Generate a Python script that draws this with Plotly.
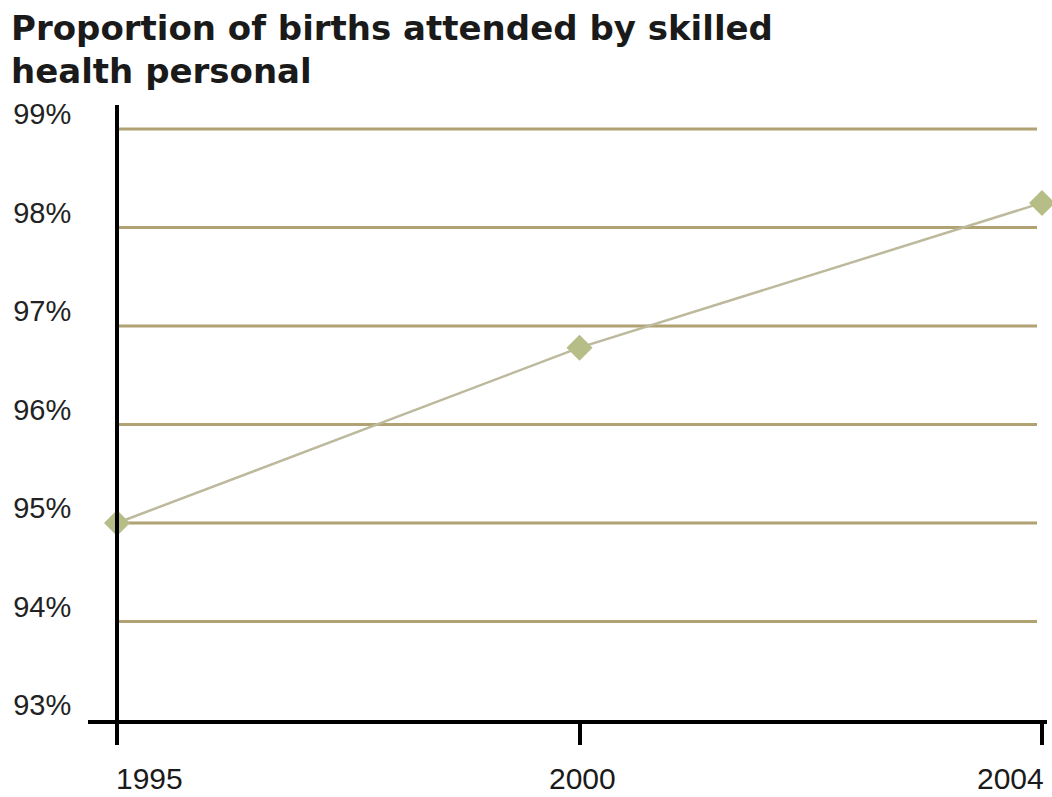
import plotly.graph_objects as go

# Data
years = ["1995", "2000", "2004"]
share = [95.0, 96.78, 98.25]
y_ticks = [93, 94, 95, 96, 97, 98, 99]
y_tick_labels = ["93%", "94%", "95%", "96%", "97%", "98%", "99%"]
grid_levels = [94, 95, 96, 97, 98, 99]
title_lines = ["Proportion of births attended by skilled", "health personal"]

W, H = 1052, 797
ML, MR, MT, MB = 88, 5, 105, 77
PW, PH = W - ML - MR, H - MT - MB

def py(p):
    """pixel row -> paper y"""
    return (H - MB - p) / PH

def px(p):
    """pixel column -> paper x"""
    return (p - ML) / PW

x_pos = list(range(len(years)))
x_first_px, x_last_px = 117, 1042
unit = (x_last_px - x_first_px) / (len(years) - 1)
x_range = [-(x_first_px - ML) / unit, (len(years) - 1) + (W - MR - x_last_px) / unit]
grid_end = (1037 - x_first_px) / unit

fig = go.Figure()
fig.add_trace(go.Scatter(
    x=x_pos, y=share, mode="lines+markers",
    line=dict(color="#bdb99c", width=2.5),
    marker=dict(symbol="diamond", size=20, color="#b7bd86"),
    cliponaxis=False, showlegend=False, hoverinfo="skip",
))

shapes = []
for g in grid_levels:
    shapes.append(dict(type="line", xref="x", yref="y", x0=0, x1=grid_end, y0=g, y1=g,
                       line=dict(color="#b0a272", width=3), layer="below"))

annotations = []
for i, t in enumerate(title_lines):
    annotations.append(dict(text=f"<b>{t}</b>", xref="paper", yref="paper",
                            x=px(9), y=py(28 + 43 * i), xanchor="left", yanchor="middle",
                            showarrow=False,
                            font=dict(family="DejaVu Sans", size=34, color="#1a1a1a")))
anchors = ["left", "center", "right"]
label_px = [114, 582, 1046]
for yr, a, lp in zip(years, anchors, label_px):
    annotations.append(dict(text=yr, xref="paper", yref="paper", x=px(lp), y=py(778),
                            xanchor=a, yanchor="middle", showarrow=False,
                            font=dict(family="Liberation Sans", size=30, color="#1a1a1a")))

fig.update_layout(
    width=W, height=H,
    margin=dict(l=ML, r=MR, t=MT, b=MB),
    paper_bgcolor="white", plot_bgcolor="white",
    shapes=shapes, annotations=annotations,
    xaxis=dict(range=x_range, tickvals=x_pos, showticklabels=False,
               showgrid=False, zeroline=False,
               showline=True, linecolor="black", linewidth=4,
               ticks="outside", ticklen=21, tickwidth=4, tickcolor="black"),
    yaxis=dict(range=[93, 99 + (129 - MT) / 98.5], anchor="free", position=px(x_first_px),
               tickvals=y_ticks, ticktext=y_tick_labels,
               showgrid=False, zeroline=False,
               showline=True, linecolor="black", linewidth=4, ticks="",
               ticklabelstandoff=38, ticklabelshift=-15,
               tickfont=dict(family="Liberation Sans", size=29, color="#222222")),
)

fig.write_html("out.html")
